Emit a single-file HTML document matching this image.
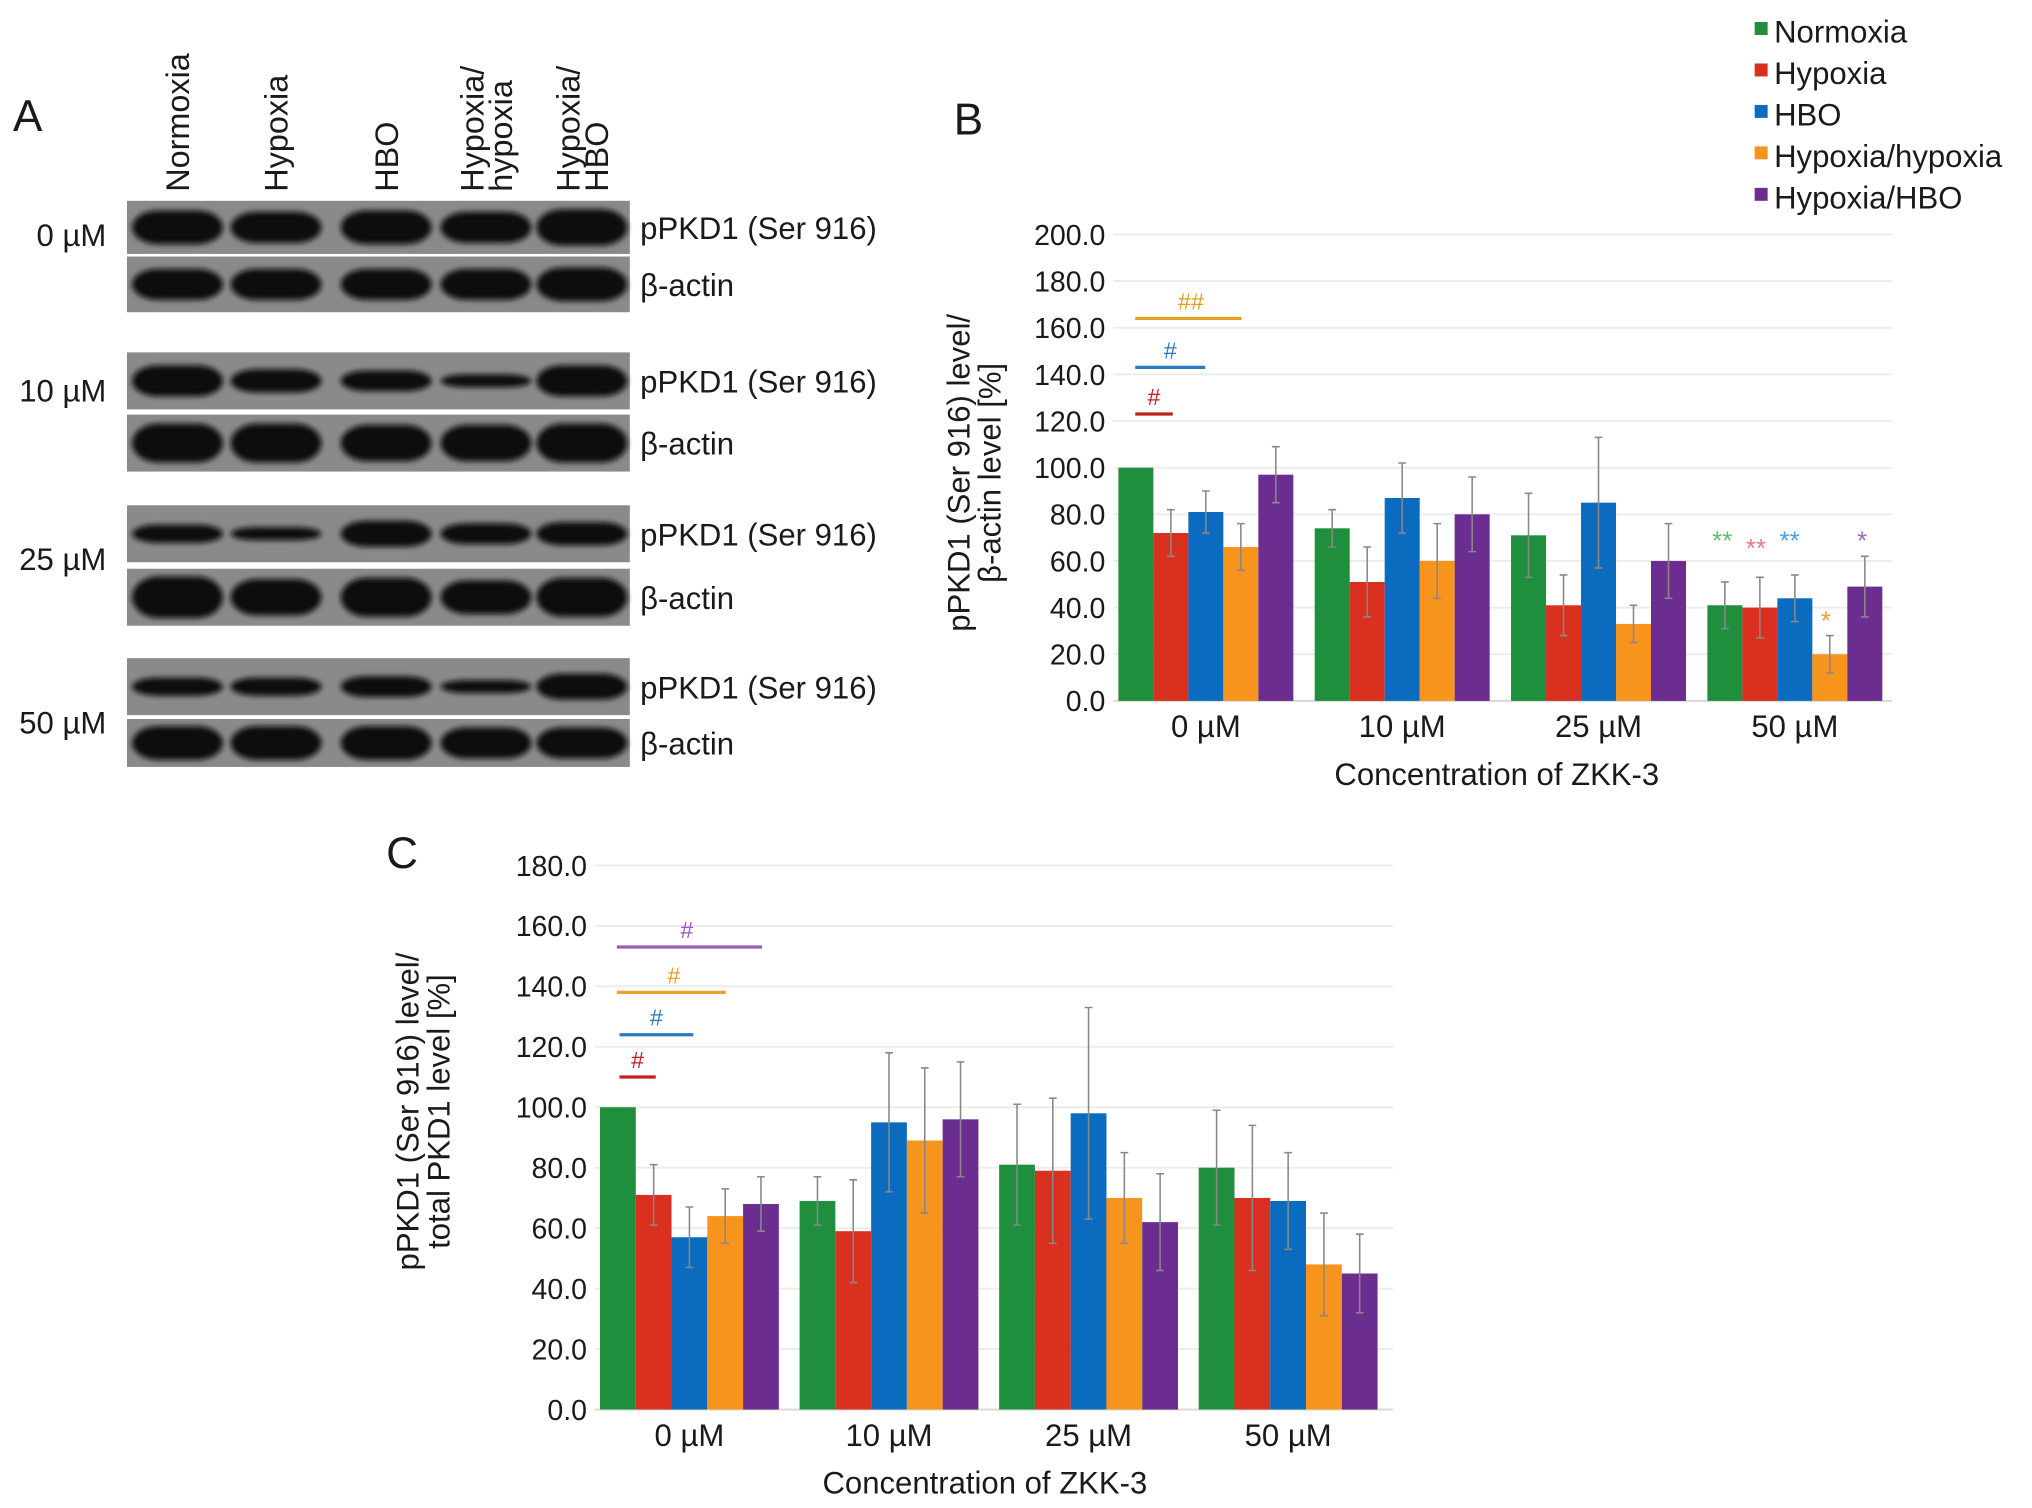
<!DOCTYPE html>
<html><head><meta charset="utf-8"><style>
html,body{margin:0;padding:0;background:#fff;}
svg{display:block;}
text{font-family:"Liberation Sans",Arial,sans-serif;fill:#1a1a1a;}
</style></head><body>
<svg id="fig" width="2032" height="1508" viewBox="0 0 1568 1164" preserveAspectRatio="none" xmlns="http://www.w3.org/2000/svg">
<defs><filter id="blur" x="-20%" y="-50%" width="140%" height="200%"><feGaussianBlur stdDeviation="2"/></filter></defs>
<g id="panelA"></g>
<g id="panelB"></g>
<g id="panelC"></g>
</svg>
<script>
const categories = ["0 µM","10 µM","25 µM","50 µM"];
const seriesNames = ["Normoxia","Hypoxia","HBO","Hypoxia/hypoxia","Hypoxia/HBO"];
const colors = ["#1f8e3d","#d9301f","#0b6cbf","#f7941d","#6b2d90"];
// Chart B values (per series, per category)
const bNormoxia = [100,74,71,41];
const bHypoxia = [72,51,41,40];
const bHBO = [81,87,85,44];
const bHypHyp = [66,60,33,20];
const bHypHBO = [97,80,60,49];
const bErrNormoxia = [0,8,18,10];
const bErrHypoxia = [10,15,13,13];
const bErrHBO = [9,15,28,10];
const bErrHypHyp = [10,16,8,8];
const bErrHypHBO = [12,16,16,13];
const bTicks = [0,20,40,60,80,100,120,140,160,180,200];
// Chart C values
const cNormoxia = [100,69,81,80];
const cHypoxia = [71,59,79,70];
const cHBO = [57,95,98,69];
const cHypHyp = [64,89,70,48];
const cHypHBO = [68,96,62,45];
const cErrNormoxia = [0,8,20,19];
const cErrHypoxia = [10,17,24,24];
const cErrHBO = [10,23,35,16];
const cErrHypHyp = [9,24,15,17];
const cErrHypHBO = [9,19,16,13];
const cTicks = [0,20,40,60,80,100,120,140,160,180];

const NS="http://www.w3.org/2000/svg";
function mk(tag,attrs,parent,txt){const e=document.createElementNS(NS,tag);for(const k in attrs)e.setAttribute(k,attrs[k]);if(txt!==undefined)e.textContent=txt;parent.appendChild(e);return e;}

function drawChart(g,cfg){
  const y=v=>cfg.y0-(v-0)/(cfg.ymax)*(cfg.y0-cfg.ytop);
  const gx=i=>cfg.x0+i*cfg.step;
  cfg.ticks.forEach(t=>{
    const l=mk('line',{x1:cfg.x0-4,x2:cfg.xend,y1:y(t),y2:y(t),stroke:t===0?'#d8d8d8':'#ececec','stroke-width':1.5},g);
    
    
    const tx=mk('text',{x:cfg.x0-10,y:y(t)+8,'text-anchor':'end','font-size':22},g,t.toFixed(1));
    
    
  });
  cfg.series.forEach((s,si)=>{
    s.forEach((v,ci)=>{
      const bx=gx(ci)+si*cfg.bw;
      const r=mk('rect',{x:bx,y:y(v),width:cfg.bw,height:y(0)-y(v),fill:colors[si]},g);
      
      
      const e=cfg.errs[si][ci];
      if(e>0){
        const cx=bx+cfg.bw/2;
        const el=mk('path',{d:`M${cx},${y(v+e)}V${y(v-e)}M${cx-3},${y(v+e)}H${cx+3}M${cx-3},${y(v-e)}H${cx+3}`,stroke:'#888','stroke-width':1.2,fill:'none'},g);
        
        
      }
    });
  });
  categories.forEach((c,ci)=>{
    const t=mk('text',{x:gx(ci)+cfg.bw*2.5,y:cfg.y0+28,'text-anchor':'middle','font-size':24},g,c);
    
    
  });
  const xt=mk('text',{x:cfg.xtx,y:cfg.y0+65,'text-anchor':'middle','font-size':24},g,'Concentration of ZKK-3');
  
  
  const yt=mk('text',{transform:`translate(${cfg.ytx},${cfg.yty}) rotate(-90)`,'text-anchor':'middle','font-size':24},g);
  
  
  mk('tspan',{x:0,dy:0},yt,cfg.ytitle[0]);
  mk('tspan',{x:0,dy:24},yt,cfg.ytitle[1]);
  cfg.ann.forEach(a=>{
    const l=mk('line',{x1:a[0],x2:a[1],y1:y(a[2]),y2:y(a[2]),stroke:a[4],'stroke-width':2.5},g);
    
    
    const t=mk('text',{x:(a[0]+a[1])/2+a[5],y:y(a[2])-7,'text-anchor':'middle','font-size':18,style:'fill:'+a[4]},g,a[3]);
    
    
  });
}

const B=document.getElementById('panelB');
const bl=mk('text',{x:736,y:104,'font-size':34},B,'B');


drawChart(B,{x0:863,xend:1460,step:151.5,bw:27,y0:541,ytop:181,ymax:200,ticks:bTicks,
  series:[bNormoxia,bHypoxia,bHBO,bHypHyp,bHypHBO],errs:[bErrNormoxia,bErrHypoxia,bErrHBO,bErrHypHyp,bErrHypHBO],
  xtx:1155,ytx:748,yty:365,ytitle:['pPKD1 (Ser 916) level/','β-actin level [%]'],
  ann:[[876,958,164,'##','#e0a020',2],[876,930,143,'#','#2a7ac0',0],[876,905,123,'#','#c02020',0]]});
[['**',1329,418,'#5cbf6a'],['**',1355,424,'#e87a80'],['**',1381,418,'#4aa0e0'],['*',1409,480,'#f0a030'],['*',1437,418,'#9a6ac8']].forEach(s=>{
  const t=mk('text',{x:s[1],y:s[2]+6,'text-anchor':'middle','font-size':20,style:'fill:'+s[3]},B,s[0]);
  
  
});
seriesNames.forEach((n,i)=>{
  const r=mk('rect',{x:1354,y:17+i*32,width:10,height:10,fill:colors[i]},B);
  
  
  const t=mk('text',{x:1369,y:33+i*32,'font-size':24},B,n);
  
  
});

const C=document.getElementById('panelC');
const cl=mk('text',{x:298,y:670,'font-size':34},C,'C');


drawChart(C,{x0:463,xend:1075,step:154,bw:27.6,y0:1088,ytop:668,ymax:180,ticks:cTicks,
  series:[cNormoxia,cHypoxia,cHBO,cHypHyp,cHypHBO],errs:[cErrNormoxia,cErrHypoxia,cErrHBO,cErrHypHyp,cErrHypHBO],
  xtx:760,ytx:323,yty:858,ytitle:['pPKD1 (Ser 916) level/','total PKD1 level [%]'],
  ann:[[478,506,110,'#','#c02020',0],[478,535,124,'#','#2a7ac0',0],[476,560,138,'#','#f0a030',2],[476,588,153,'#','#9a5ab8',-2]]});

// Panel A
const A=document.getElementById('panelA');
const al=mk('text',{x:10,y:101,'font-size':34},A,'A');


const laneX=[137,213,298,375,449];
const colLabels=[["Normoxia"],["Hypoxia"],["HBO"],["Hypoxia/","hypoxia"],["Hypoxia/","HBO"]];
colLabels.forEach((c,i)=>{
  c.forEach((line,j)=>{
    const t=mk('text',{transform:`translate(${laneX[i]+9+(j-(c.length-1)/2)*22},148) rotate(-90)`,'font-size':25},A,line);
    
    
  });
});
const strips=[[155,41,'pPKD1 (Ser 916)',[13,12,13,12,14]],[198,43,'β-actin',[12,12,12,12,13]],
 [272,44,'pPKD1 (Ser 916)',[12,9,8,5,12]],[320,44,'β-actin',[15,15,14,14,15]],
 [390,44,'pPKD1 (Ser 916)',[7,5,10,8,9]],[439,44,'β-actin',[16,14,15,13,15]],
 [508,44,'pPKD1 (Ser 916)',[7,7,8,5,10]],[555,37,'β-actin',[13,13,13,12,12]]];
strips.forEach(s=>{
  const r=mk('rect',{x:98,y:s[0],width:388,height:s[1],fill:'#8a8a8a'},A);
  
  
  s[3].forEach((h,i)=>{
    const e=mk('rect',{x:laneX[i]-35,y:s[0]+s[1]/2-h,width:70,height:2*h,rx:20,ry:h,fill:'#0a0a0a',filter:'url(#blur)'},A);
    
    
  });
  const t=mk('text',{x:494,y:s[0]+s[1]/2+9,'font-size':24},A,s[2]);
  
  
});
[['0 µM',190],['10 µM',310],['25 µM',440],['50 µM',566]].forEach(c=>{
  const t=mk('text',{x:82,y:c[1],'text-anchor':'end','font-size':24},A,c[0]);
  
  
});
</script>
</body></html>
